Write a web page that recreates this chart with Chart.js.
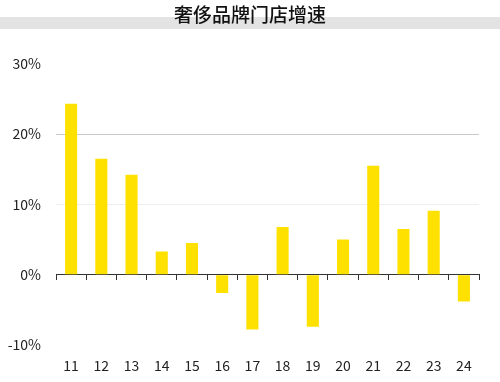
<!DOCTYPE html>
<html>
<head>
<meta charset="utf-8">
<script src="https://cdn.jsdelivr.net/npm/chart.js@4"></script>
<style>
html,body{margin:0;padding:0;background:#fff;}
#wrap{width:500px;height:382px;}
</style>
</head>
<body>
<div id="wrap"><canvas id="c" width="500" height="382"></canvas></div>
<script>
const categories = ['11','12','13','14','15','16','17','18','19','20','21','22','23','24'];
const growth = [24.3, 16.5, 14.2, 3.3, 4.5, -2.6, -7.8, 6.8, -7.4, 5.0, 15.5, 6.5, 9.1, -3.8];
const yTicks = [-10, 0, 10, 20, 30];
const titleText = '奢侈品牌门店增速';

const FONT = '"Noto Sans CJK SC", "Noto Sans", sans-serif';

const bandPlugin = {
  id: 'band',
  beforeDraw(chart) {
    const ctx = chart.ctx;
    ctx.save();
    ctx.fillStyle = '#e3e3e3';
    ctx.fillRect(0, 17, chart.width, 12);
    ctx.restore();
  }
};

new Chart(document.getElementById('c'), {
  type: 'bar',
  data: {
    labels: categories,
    datasets: [{
      data: growth,
      backgroundColor: '#FFE100',
      borderWidth: 0,
      barPercentage: 0.4,
      categoryPercentage: 1.0,
      yAxisID: 'y'
    }]
  },
  options: {
    responsive: false,
    animation: false,
    devicePixelRatio: 1,
    layout: { padding: { left: 0, right: 0, top: 0, bottom: 0 } },
    plugins: {
      legend: { display: false },
      tooltip: { enabled: false },
      title: {
        display: true,
        text: titleText,
        color: '#111',
        font: { family: FONT, size: 19, weight: '500' },
        padding: { top: 3, bottom: 38 }
      }
    },
    scales: {
      x: {
        type: 'category',
        offset: true,
        border: { display: false },
        grid: { display: false, drawTicks: false },
        afterFit(scale) { scale.height = 37; },
        ticks: { color: '#222', font: { family: FONT, size: 14 }, padding: 12, maxRotation: 0, autoSkip: false }
      },
      x2: {
        type: 'category',
        labels: categories,
        position: { y: 0 },
        offset: true,
        border: { display: true, color: '#333', width: 1 },
        grid: { offset: true, drawOnChartArea: false, drawTicks: true, tickLength: 5, color: '#333' },
        ticks: { display: false }
      },
      y: {
        min: -10,
        max: 30,
        border: { display: false },
        afterFit(scale) { scale.width = 56; },
        afterBuildTicks(scale) { scale.ticks = yTicks.map(v => ({ value: v })); },
        grid: {
          drawTicks: false,
          color(ctx) {
            const v = ctx.tick && ctx.tick.value;
            if (v === 20) return '#c8c8c8';
            if (v === 10) return '#eeeeee';
            return 'rgba(0,0,0,0)';
          }
        },
        ticks: {
          color: '#222',
          font: { family: FONT, size: 14 },
          padding: 15,
          callback: v => v + '%'
        }
      },
      yR: {
        type: 'linear',
        position: 'right',
        min: -10,
        max: 30,
        border: { display: false },
        grid: { display: false, drawTicks: false },
        ticks: { display: false },
        afterFit(scale) { scale.width = 21; }
      }
    }
  },
  plugins: [bandPlugin]
});
</script>
</body>
</html>
